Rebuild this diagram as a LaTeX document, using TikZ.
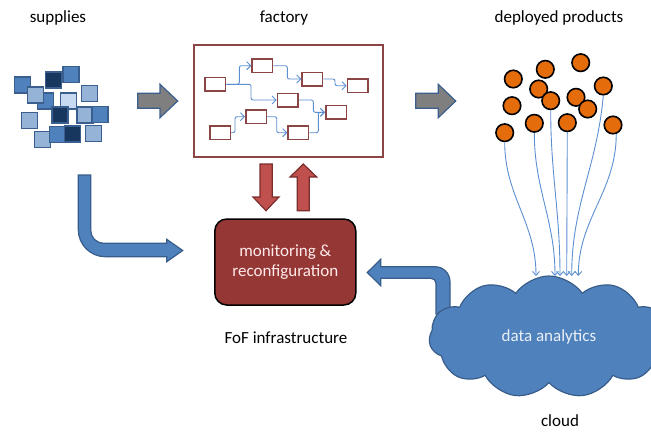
\documentclass[tikz,border=0pt]{standalone}
\usepackage{fontspec}
\setmainfont{Carlito}
\usepackage{tikz}
\usetikzlibrary{shapes.symbols, arrows.meta}
\definecolor{supplymid}{HTML}{4F81BD}
\definecolor{supplydark}{HTML}{17375E}
\definecolor{supplylight}{HTML}{95B3D7}
\definecolor{supplypale}{HTML}{C6D9F1}
\definecolor{supplyedge}{HTML}{3A5F8E}
\definecolor{factorycolor}{HTML}{8B4545}
\definecolor{flowblue}{HTML}{5B8FD0}
\definecolor{monitorred}{HTML}{953735}
\definecolor{arrowred}{HTML}{C0504D}
\definecolor{arrowredline}{HTML}{7A2E2C}
\definecolor{arrowgray}{HTML}{7F7F7F}
\definecolor{cloudblue}{HTML}{4F81BD}
\definecolor{cloudedge}{HTML}{385D8A}
\definecolor{productorange}{HTML}{E46C0A}

\tikzset{
  label text/.style={font=\fontsize{17}{20}\selectfont, text=black},
  supply/.style={draw=supplyedge, line width=1.2pt, minimum size=16pt, inner sep=0pt},
  machine/.style={draw=factorycolor, fill=white, line width=1.5pt, minimum width=20.5pt, minimum height=13.5pt, inner sep=0pt},
  flow/.style={-{Straight Barb[length=4pt, width=8pt]}, draw=flowblue, line width=0.9pt, rounded corners=2pt},
  product/.style={circle, draw=black, fill=productorange, line width=1.6pt, minimum size=17.5pt, inner sep=0pt},
  report/.style={-{Straight Barb[length=4pt, width=7pt]}, draw=flowblue, line width=0.9pt},
}

\begin{document}
\begin{tikzpicture}[x=1pt, y=-1pt]
    \useasboundingbox (0,0) rectangle (651,432);

    % Labels
    \node[label text] (supplieslabel) at (58,18) {supplies};
    \node[label text] (factorylabel) at (284,18) {factory};
    \node[label text] (productslabel) at (559,18) {deployed products};
    \node[label text] (foflabel) at (286,338) {FoF infrastructure};
    \node[label text] (cloudlabel) at (560,421) {cloud};

    % Supplies
    \foreach \x/\y/\c [count=\i] in {22.7/85/supplymid, 45.7/101/supplymid, 53.3/80/supplydark,
        35.7/95/supplylight, 71/74.3/supplymid, 89.3/93.3/supplylight, 68.3/101/supplypale,
        60/115/supplydark, 85/115/supplylight, 100/114.3/supplymid, 29.3/120.7/supplylight,
        42.3/139.3/supplylight, 57.3/134.3/supplymid, 72.7/134/supplydark, 93.3/133.3/supplylight}
        \node[supply, fill=\c] (s\i) at (\x,\y) {};

    % Gray arrows
    \draw[draw=supplyedge, fill=arrowgray, line width=1.2pt] (137.7,93.3) -- (160,93.3) -- (160,84.3) -- (177.7,101)
        -- (160,117.7) -- (160,108.3) -- (137.7,108.3) -- cycle;
    \draw[draw=supplyedge, fill=arrowgray, line width=1.2pt] (415.7,93.3) -- (438.3,93.3) -- (438.3,84.3) -- (455.7,101)
        -- (438.3,117.7) -- (438.3,108.3) -- (415.7,108.3) -- cycle;

    % Factory
    \node[draw=factorycolor, line width=1.5pt, minimum width=189pt, minimum height=112pt, inner sep=0pt] (factory) at (288.7,101) {};
    \node[machine] (ma) at (215.3,84.3) {};
    \node[machine] (mb) at (262.3,65.7) {};
    \node[machine] (mc) at (312.3,79) {};
    \node[machine] (md) at (357.7,85.7) {};
    \node[machine] (me) at (287.7,100) {};
    \node[machine] (mf) at (336,112.3) {};
    \node[machine] (mg) at (256,116.7) {};
    \node[machine] (mh) at (220,132.7) {};
    \node[machine] (mi) at (298.3,132.7) {};
    \draw[flow] (ma.east) -- +(13,0) |- (mb.west);
    \draw[flow] (ma.east) -- +(24.7,0) |- (me.west);
    \draw[flow] (mb.east) -- +(14,0) |- (mc.west);
    \draw[flow] (mc.east) -- +(11.7,0) |- (md.west);
    \draw[flow] (me.east) -- +(14.6,0) |- (mf.west);
    \draw[flow] (mh.east) -- +(4,0) |- (mg.west);
    \draw[flow] (mg.east) -- +(9.7,0) |- (mi.west);
    \draw[flow] (mi.east) -- +(9,0) |- (mf.west);

    % Red arrows
    \draw[draw=arrowredline, fill=arrowred, line width=1.2pt] (260,164) -- (272.3,164) -- (272.3,197) -- (279,197)
        -- (266,210.7) -- (253,197) -- (260,197) -- cycle;
    \draw[draw=arrowredline, fill=arrowred, line width=1.2pt] (297.3,210.7) -- (297.3,177) -- (290,177) -- (303.3,164)
        -- (316.7,177) -- (309.3,177) -- (309.3,210.7) -- cycle;

    % Monitoring
    \node[draw=black, fill=monitorred, line width=1.5pt, rounded corners=12pt, minimum width=141pt, minimum height=86pt,
        align=center, font=\fontsize{17}{20}\selectfont, text=white!92!red] (monitor) at (285.3,262) {monitoring \&\\reconfiguration};

    % Blue arrows
    \draw[draw=cloudedge, fill=cloudblue, line width=1.2pt] (78.3,175) -- (78.3,229.7)
        .. controls (78.3,244.6) and (90.4,256.7) .. (105.3,256.7) -- (166.7,256.7) -- (166.7,261.7) -- (182.7,250.5)
        -- (166.7,239.3) -- (166.7,243.3) -- (103.7,243.3) .. controls (96.5,243.3) and (90.7,237.5) .. (90.7,230.3)
        -- (90.7,175) -- cycle;
    \draw[draw=cloudedge, fill=cloudblue, line width=1.2pt] (436,314) -- (436,283.3)
        .. controls (436,280.5) and (433.8,278.3) .. (431,278.3) -- (380.7,278.3) -- (380.7,285.7) -- (367.3,272.5)
        -- (380.7,259.3) -- (380.7,266.7) -- (435,266.7) .. controls (443.3,266.7) and (450,273.4) .. (450,281.7)
        -- (450,314) -- cycle;

    % Cloud
    \node[cloud, cloud puffs=11, cloud puff arc=110, aspect=2, draw=cloudedge, fill=cloudblue, line width=1.2pt,
        minimum width=240pt, minimum height=122pt, font=\fontsize{17}{20}\selectfont, text=white!88!cloudblue] (cloud) at (549,337) {data analytics};

    % Deployed products
    \coordinate (t1) at (536,276);
    \coordinate (t2) at (555,276);
    \coordinate (t3) at (560,276);
    \coordinate (t4) at (566.7,276);
    \coordinate (t5) at (571.7,276);
    \coordinate (t6) at (578.3,276);
    \node[product] (p1) at (513.3,79) {};
    \node[product] (p2) at (545.3,69.3) {};
    \node[product] (p3) at (580.7,62.7) {};
    \node[product] (p4) at (538.7,89) {};
    \node[product] (p5) at (603.3,86) {};
    \node[product] (p6) at (512,105.7) {};
    \node[product] (p7) at (550.7,100.7) {};
    \node[product] (p8) at (576,97.3) {};
    \node[product] (p9) at (587.7,109) {};
    \node[product] (p10) at (504.7,132.7) {};
    \node[product] (p11) at (534.3,123.3) {};
    \node[product] (p12) at (567.3,122.7) {};
    \node[product] (p13) at (613,125) {};
    \draw[report] (p10.south) to[out=-90, in=90] (t1);
    \draw[report] (p11.south) to[out=-90, in=90] (t2);
    \draw[report] (p7.south) to[out=-90, in=90] (t3);
    \draw[report] (p12.south) -- (t4);
    \draw[report] (p5.south) to[out=-95, in=90] (t5);
    \draw[report] (p13.-70) to[out=-90, in=90] (t6);
\end{tikzpicture}
\end{document}
